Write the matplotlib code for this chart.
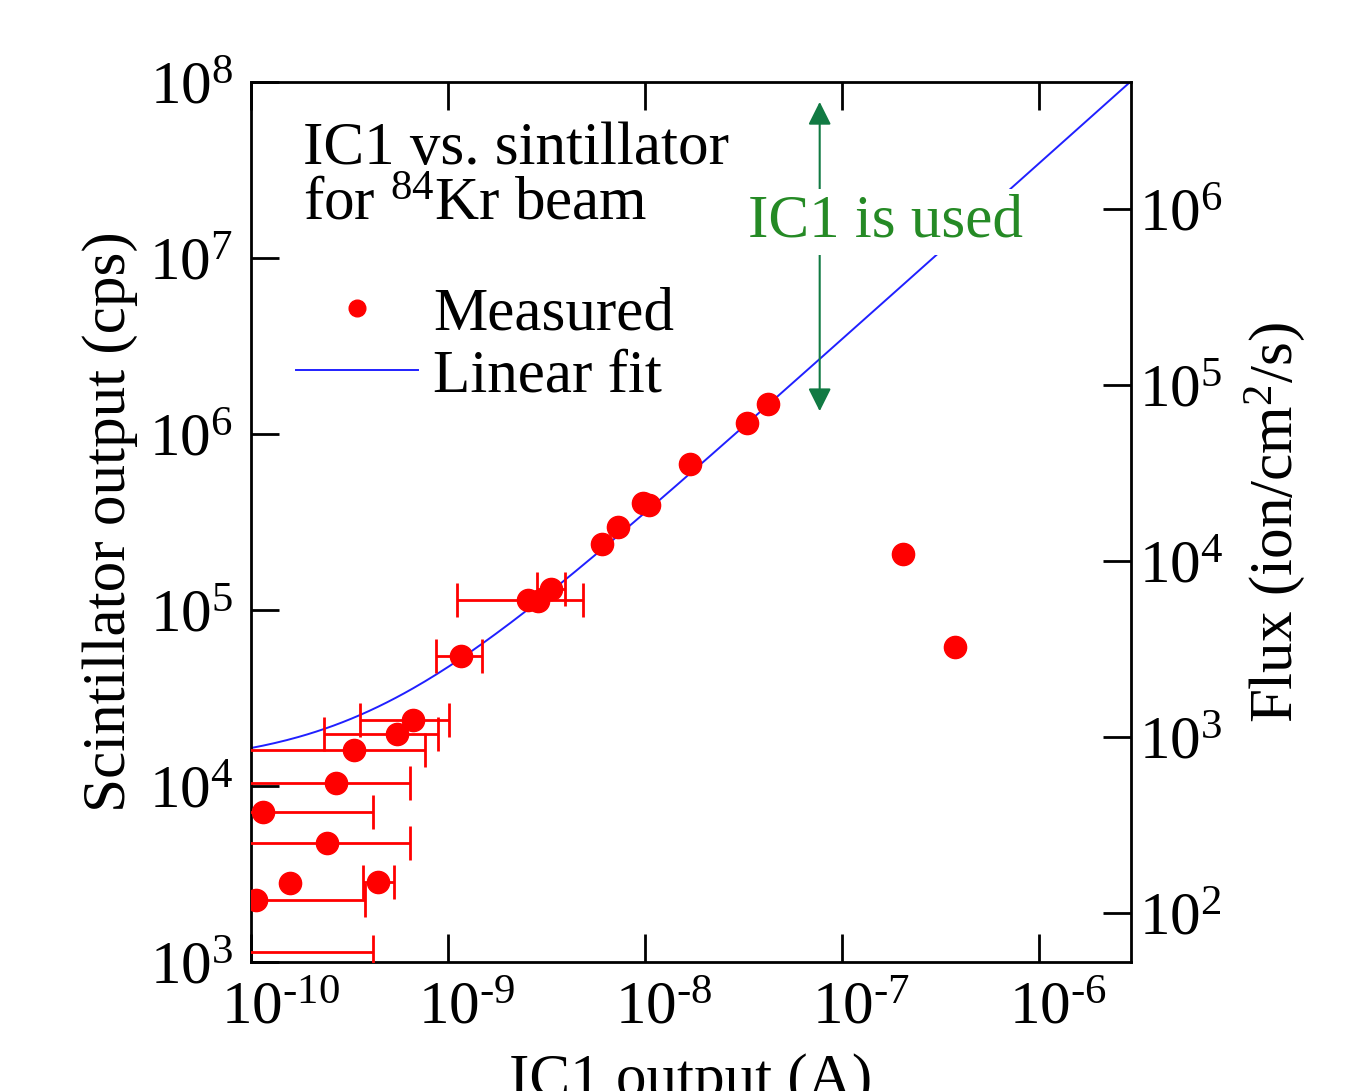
import numpy as np
import matplotlib
matplotlib.use('Agg')
import matplotlib.pyplot as plt
import matplotlib.transforms as mtransforms
from matplotlib.lines import Line2D
from matplotlib.ticker import LogLocator, NullLocator, FuncFormatter

plt.rcParams['font.family'] = ['Liberation Serif', 'DejaVu Serif']
plt.rcParams['mathtext.fontset'] = 'custom'
plt.rcParams['mathtext.rm'] = 'Liberation Serif'
plt.rcParams['mathtext.it'] = 'Liberation Serif:italic'
plt.rcParams['axes.unicode_minus'] = False

FS = 44

# measured points: IC1 current (A), scintillator rate (cps)
ic1 = [6.0e-11, 1.06e-10, 1.58e-10, 4.42e-10, 2.43e-10, 1.15e-10, 2.70e-10,
       3.33e-10, 5.51e-10, 6.64e-10, 1.16e-9, 2.55e-9, 2.85e-9, 3.33e-9,
       6.05e-9, 7.29e-9, 9.8e-9, 1.05e-8, 1.69e-8, 3.30e-8, 4.21e-8,
       2.04e-7, 3.75e-7]
cps = [1140, 2250, 2810, 2850, 4740, 7110, 10400,
       16000, 19700, 23700, 54800, 114000, 112000, 131600,
       237000, 296000, 405000, 395000, 676000, 1.156e6, 1.48e6,
       208000, 61700]
# error bar ends (A); None = no error bar
x_lo = [3e-11, 5e-11, None, 3.71e-10, 5e-11, 5e-11, 5e-11,
        5e-11, 2.35e-10, 3.57e-10, 8.69e-10, 1.11e-9, None, 2.83e-9,
        None, None, None, None, None, None, None, None, None]
x_hi = [4.16e-10, 3.8e-10, None, 5.32e-10, 6.41e-10, 4.16e-10, 6.41e-10,
        7.64e-10, 8.89e-10, 1.01e-9, 1.49e-9, 4.84e-9, None, 3.93e-9,
        None, None, None, None, None, None, None, None, None]

# linear fit: cps = slope * I + offset
slope = 3.45e13
offset = 13000
fit_range = (1e-10, 3e-6)

# flux calibration: flux = cps / cal
cal = 19.0

fig = plt.figure(figsize=(13.63, 10.91), dpi=100)
ax = fig.add_axes([0.1842, 0.1182, 0.8298 - 0.1842, 0.9248 - 0.1182])

xf = np.logspace(np.log10(fit_range[0]), np.log10(fit_range[1]), 300)
ax.plot(xf, slope * xf + offset, color='#2020ff', lw=1.4, zorder=2)

for x, y, lo, hi in zip(ic1, cps, x_lo, x_hi):
    if lo is not None:
        ax.errorbar([x], [y], xerr=[[x - lo], [hi - x]], fmt='none',
                    ecolor='red', elinewidth=2, capsize=12, capthick=2, zorder=3)
ax.plot(ic1, cps, 'o', color='red', ms=16, mec='red', zorder=4)

ax.set_xscale('log')
ax.set_yscale('log')
ax.set_xlim(1e-10, 2.93e-6)
ax.set_ylim(1e3, 1e8)
ax.xaxis.set_major_locator(LogLocator(base=10, numticks=20))
ax.yaxis.set_major_locator(LogLocator(base=10, numticks=20))
ax.xaxis.set_minor_locator(NullLocator())
ax.yaxis.set_minor_locator(NullLocator())


def pow10(v, pos):
    e = int(round(np.log10(v)))
    if e < 0:
        return '$10^{\u2010%d}$' % (-e)
    return '$10^{%d}$' % e


ax.xaxis.set_major_formatter(FuncFormatter(pow10))
ax.yaxis.set_major_formatter(FuncFormatter(pow10))
ax.tick_params(which='major', direction='in', length=20, width=2,
               labelsize=FS, top=True, right=False)
ax.tick_params(axis='x', pad=14)
ax.tick_params(axis='y', pad=13)
for s in ax.spines.values():
    s.set_linewidth(2)

# base "10" centred on the tick, exponent hanging to the right
shift = mtransforms.ScaledTranslation(-30 / 100, 0, fig.dpi_scale_trans)
for lab in ax.get_xticklabels():
    lab.set_horizontalalignment('left')
    lab.set_transform(lab.get_transform() + shift)

ax.set_xlabel('IC1 output (A)', fontsize=FS, labelpad=12)
ax.set_ylabel('Scintillator output (cps)', fontsize=FS, labelpad=8)

sec = ax.secondary_yaxis('right', functions=(lambda y: y / cal, lambda f: f * cal))
sec.yaxis.set_major_locator(LogLocator(base=10, numticks=20))
sec.yaxis.set_minor_locator(NullLocator())
sec.yaxis.set_major_formatter(FuncFormatter(pow10))
sec.tick_params(direction='in', length=20, width=2, labelsize=FS, pad=6)
sec.set_ylabel('Flux (ion/cm$^2$/s)', fontsize=FS, labelpad=14)

ax.text(0.059, 0.955, 'IC1 vs. sintillator\nfor $^{84}$Kr beam', transform=ax.transAxes,
        fontsize=FS, va='top', ha='left', linespacing=1.0)

# "IC1 is used" double arrow
ax.annotate('', xy=(7.7e-8, 8.0e7), xytext=(7.7e-8, 1.3e6),
            arrowprops=dict(arrowstyle='<|-|>', color='#117a43', lw=1.5,
                            mutation_scale=35), zorder=3)
ax.text(1.67e-7, 1.6e7, 'IC1 is used', color='#258a25', fontsize=FS,
        ha='center', va='center', zorder=5,
        bbox=dict(facecolor='white', edgecolor='none', pad=4))

handles = [Line2D([], [], marker='o', color='red', ls='none', ms=12),
           Line2D([], [], color='#2020ff', lw=1.4)]
ax.legend(handles, ['Measured', 'Linear fit'], loc='upper left',
          bbox_to_anchor=(-0.012, 0.83), frameon=False, fontsize=FS,
          handlelength=2.0, handletextpad=0.25, labelspacing=0.1)

fig.savefig('out.png', dpi=100)
